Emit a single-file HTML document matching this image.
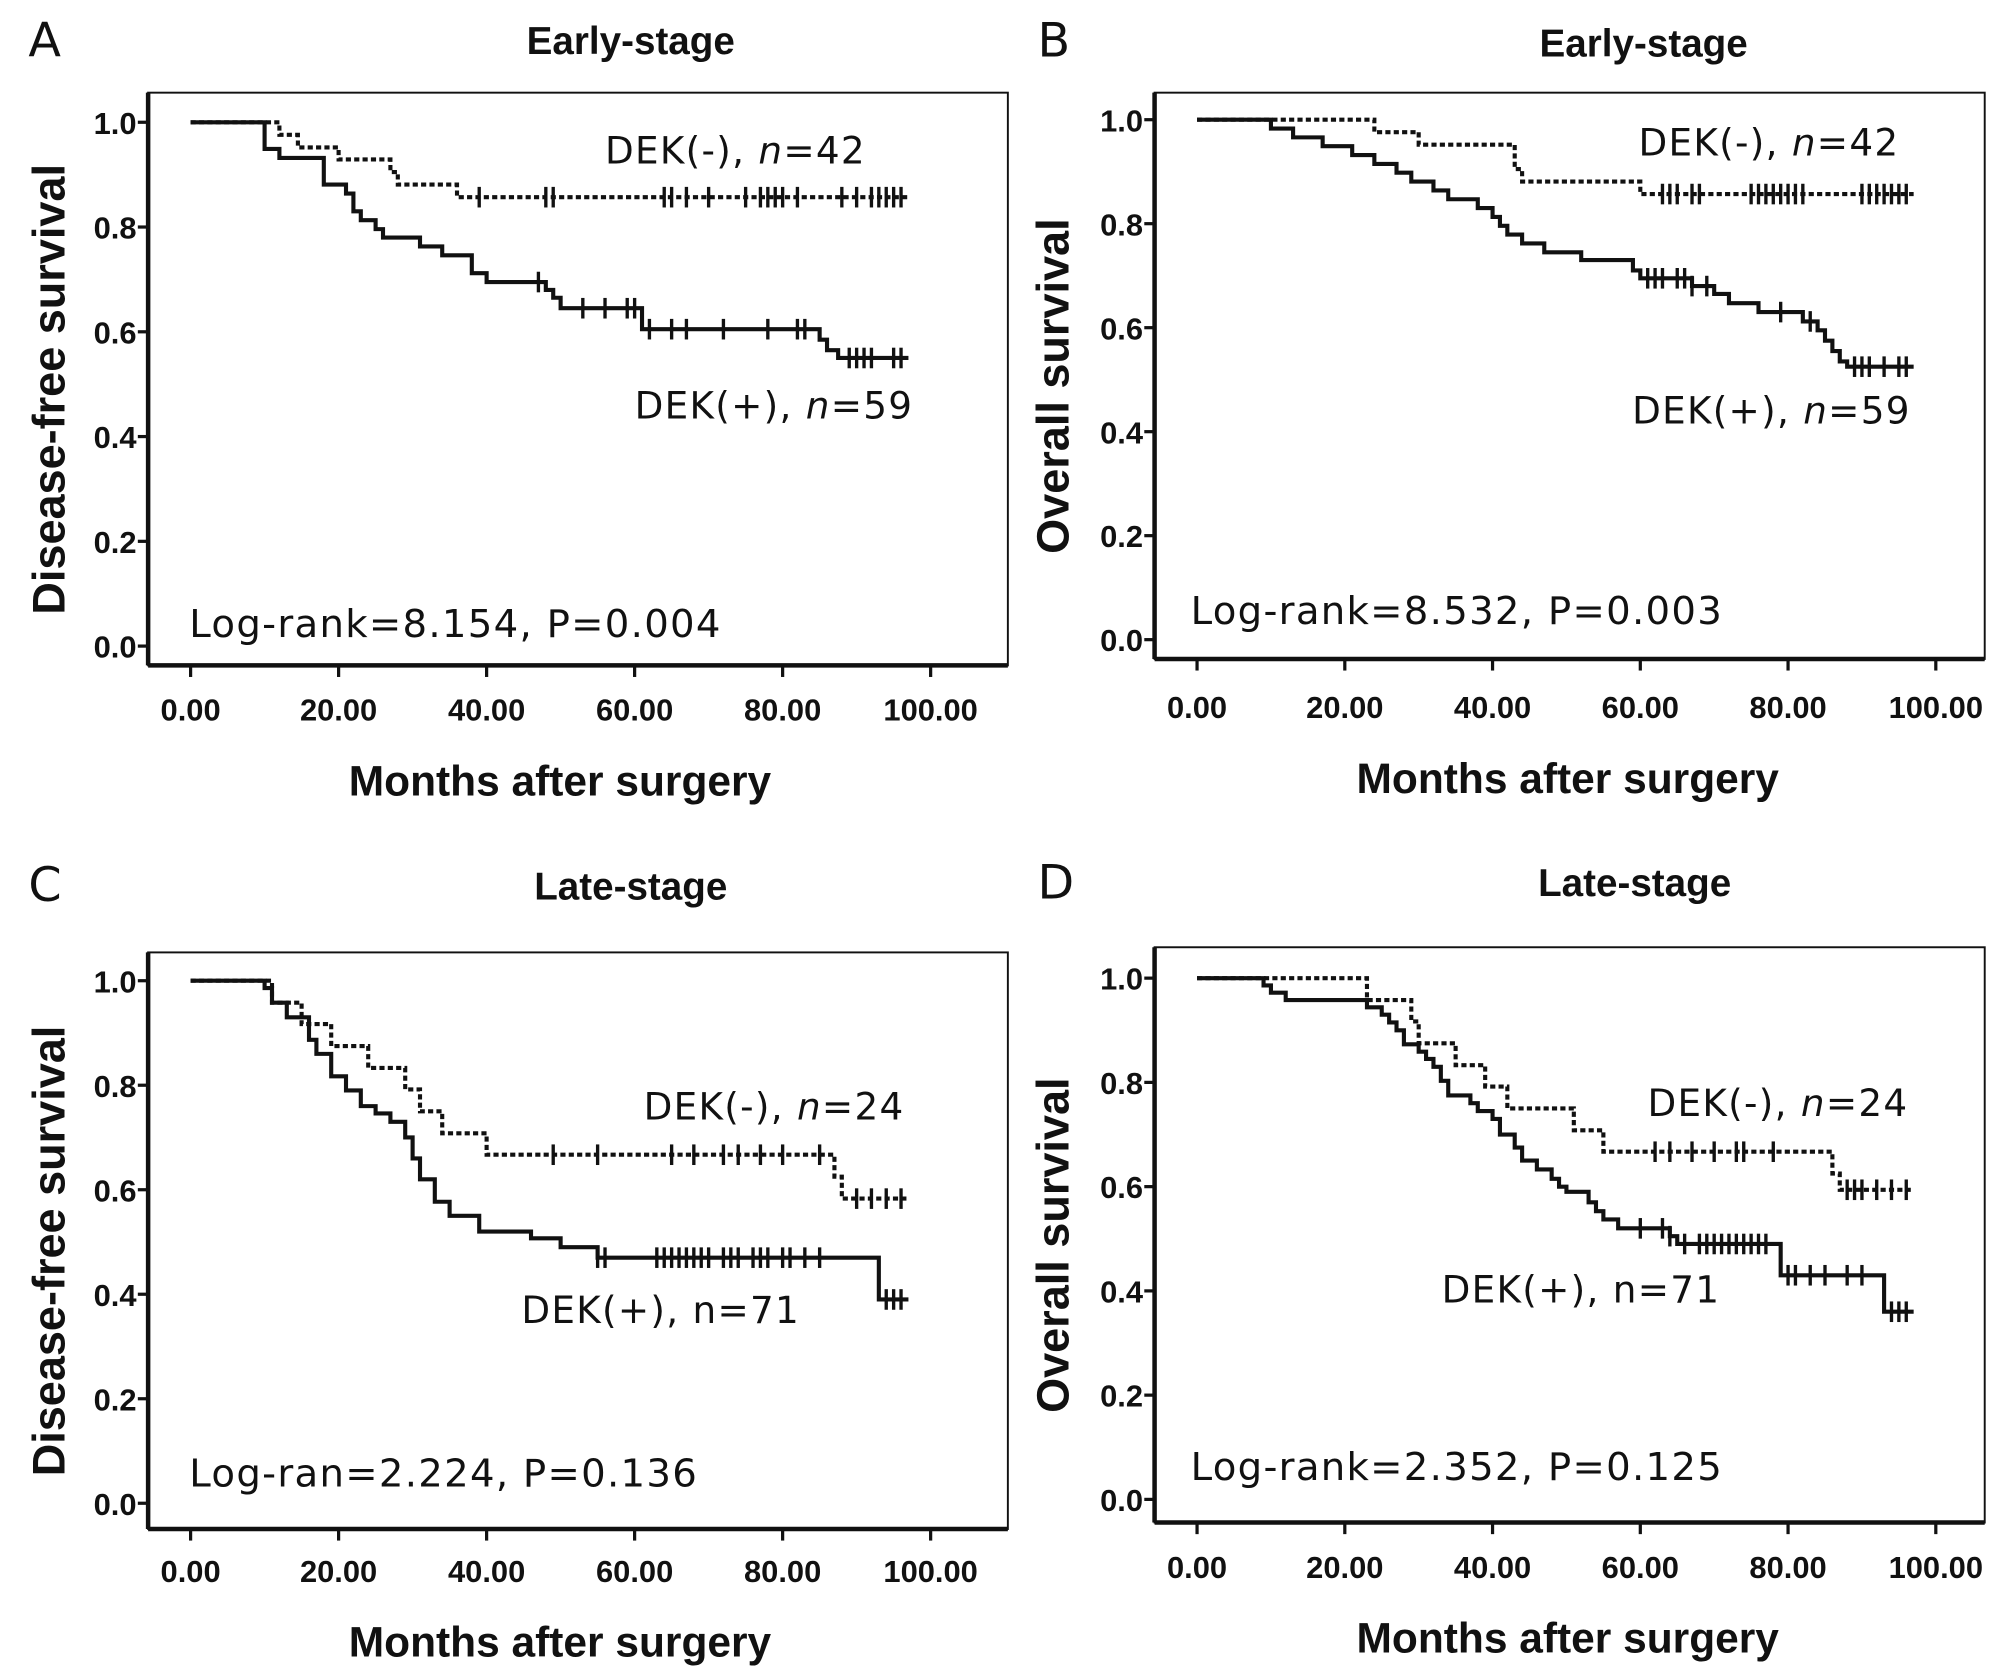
<!DOCTYPE html>
<html><head><meta charset="utf-8"><style>
html,body{margin:0;padding:0;background:#fff}
svg{display:block}
text{font-family:"Liberation Sans",Arial,sans-serif;fill:#111}
.ann{font-family:"DejaVu Sans","Liberation Sans",sans-serif}
</style></head><body>
<svg id="fig" width="2008" height="1677" viewBox="0 0 1560 1303" xmlns="http://www.w3.org/2000/svg"></svg>
<script>
// Panel A
const aNegT=[12,14.5,20,27,28,36];const aNegS=[0.976,0.952,0.929,0.905,0.881,0.857];
const aNegC=[39,48,49,64,65,67,70,75,77,78,79,80,82,88,90,92,93,94,95,96];
const aPosT=[10,12,18,21,22,23,25,26,31,34,38,40,48,49,50,61,85,86,87.5];
const aPosS=[0.949,0.932,0.881,0.864,0.83,0.813,0.796,0.78,0.763,0.746,0.712,0.695,0.68,0.665,0.645,0.605,0.585,0.565,0.55];
const aPosC=[47,53,56,59,60,62,65,67,72,78,82,83,89,90,91,92,95,96];
// Panel B
const bNegT=[24,30,43,44,60];const bNegS=[0.976,0.952,0.905,0.881,0.857];
const bNegC=[63,64,65,67,68,75,76,77,78,79,80,81,82,90,91,92,93,94,95,96];
const bPosT=[10,13,17,21,24,27,29,32,34,38,40,41,42,44,47,52,59,60,67,70,72,76,82,84,85,86,87,88];
const bPosS=[0.983,0.966,0.949,0.932,0.915,0.898,0.881,0.864,0.847,0.83,0.813,0.796,0.779,0.762,0.745,0.73,0.71,0.695,0.68,0.665,0.647,0.63,0.612,0.595,0.575,0.555,0.535,0.525];
const bPosC=[61,62,63,65,66,67,69,79,83,89,90,91,93,95,96];
// Panel C
const cNegT=[11,15,19,24,29,31,34,40,87,88];const cNegS=[0.958,0.917,0.875,0.833,0.792,0.75,0.708,0.667,0.625,0.583];
const cNegC=[49,55,65,68,72,74,77,80,85,90,92,94,96];
const cPosT=[10,11,13,16,17,19,21,23,25,27,29,30,31,33,35,39,46,50,55,93];
const cPosS=[0.986,0.958,0.93,0.887,0.86,0.817,0.79,0.76,0.746,0.73,0.7,0.66,0.62,0.577,0.55,0.52,0.507,0.49,0.47,0.39];
const cPosC=[55,56,63,64,65,66,67,68,69,70,72,73,74,76,77,78,80,81,83,85,94,95,96];
// Panel D
const dNegT=[23,29,30,35,39,42,51,55,86,87];const dNegS=[0.958,0.917,0.875,0.833,0.792,0.75,0.708,0.667,0.625,0.594];
const dNegC=[62,64,67,70,73,74,78,88,89,90,92,94,96];
const dPosT=[9,10,12,23,25,26,27,28,30,31,32,33,34,37,38,40,41,43,44,46,48,49,50,53,54,55,57,64,65,79,93];
const dPosS=[0.986,0.972,0.958,0.944,0.93,0.915,0.9,0.873,0.859,0.845,0.83,0.803,0.775,0.76,0.745,0.73,0.7,0.675,0.65,0.633,0.615,0.6,0.59,0.57,0.553,0.537,0.52,0.505,0.49,0.43,0.36];
const dPosC=[60,63,64,66,68,69,70,71,72,73,74,75,76,77,80,81,83,85,88,90,94,95,96];
const yTicks=["0.0","0.2","0.4","0.6","0.8","1.0"];
const xTicks=["0.00","20.00","40.00","60.00","80.00","100.00"];

const NS="http://www.w3.org/2000/svg";const svg=document.getElementById('fig');
function mk(tag,attrs,parent,txt){const e=document.createElementNS(NS,tag);for(const k in attrs)e.setAttribute(k,attrs[k]);if(txt!==undefined)e.textContent=txt;(parent||svg).appendChild(e);return e;}

const panels=[
 {L:"A",title:"Early-stage",yl:"Disease-free survival",fl:115,fr:783,ft:72,fb:517,x0:148,x1:723,y1:95,y0:502,tx:490,ty:42,lx:22,ly:44,ylx:50,tly:560,atx:435,aty:618,
  neg:[aNegT,aNegS,aNegC],pos:[aPosT,aPosS,aPosC],negL:["DEK(-), ",true,"n","=42",470,127],posL:["DEK(+), ",true,"n","=59",493,325],lr:["Log-rank=8.154, P=0.004",147,495]},
 {L:"B",title:"Early-stage",yl:"Overall survival",fl:897,fr:1542,ft:72,fb:512,x0:930,x1:1504,y1:93,y0:497,tx:1277,ty:44,lx:806,ly:44,ylx:830,tly:558,atx:1218,aty:616,
  neg:[bNegT,bNegS,bNegC],pos:[bPosT,bPosS,bPosC],negL:["DEK(-), ",true,"n","=42",1273,121],posL:["DEK(+), ",true,"n","=59",1268,329],lr:["Log-rank=8.532, P=0.003",925,485]},
 {L:"C",title:"Late-stage",yl:"Disease-free survival",fl:115,fr:783,ft:740,fb:1188,x0:148,x1:723,y1:762,y0:1168,tx:490,ty:699,lx:22,ly:700,ylx:50,tly:1229,atx:435,aty:1287,
  neg:[cNegT,cNegS,cNegC],pos:[cPosT,cPosS,cPosC],negL:["DEK(-), ",true,"n","=24",500,870],posL:["DEK(+), ",false,"n","=71",405,1028],lr:["Log-ran=2.224, P=0.136",147,1155]},
 {L:"D",title:"Late-stage",yl:"Overall survival",fl:897,fr:1542,ft:736,fb:1183,x0:930,x1:1504,y1:760,y0:1165,tx:1270,ty:696,lx:806,ly:698,ylx:830,tly:1226,atx:1218,aty:1284,
  neg:[dNegT,dNegS,dNegC],pos:[dPosT,dPosS,dPosC],negL:["DEK(-), ",true,"n","=24",1280,867],posL:["DEK(+), ",false,"n","=71",1120,1012],lr:["Log-rank=2.352, P=0.125",925,1150]}
];

panels.forEach(p=>{
 const g=mk('g',{});
 
 
 const sx=v=>p.x0+(p.x1-p.x0)*v/100, sy=v=>p.y0-(p.y0-p.y1)*v;
 const lt=mk('text',{x:p.lx,y:p.ly,'font-size':37,'class':'ann'},g,p.L);
 
 const ti=mk('text',{x:p.tx,y:p.ty,'font-size':30,'font-weight':'bold','text-anchor':'middle'},g,p.title);
 
 const fr=mk('rect',{x:p.fl,y:p.ft,width:p.fr-p.fl,height:p.fb-p.ft,fill:'none',stroke:'#111','stroke-width':1.5},g);
 
 mk('line',{x1:p.fl,y1:p.fb,x2:p.fr,y2:p.fb,stroke:'#111','stroke-width':3.5},g);
 mk('line',{x1:p.fl,y1:p.ft,x2:p.fl,y2:p.fb,stroke:'#111','stroke-width':3.5},g);
 yTicks.forEach((t,i)=>{const y=sy(i*0.2);
  mk('line',{x1:p.fl-8,y1:y,x2:p.fl,y2:y,stroke:'#111','stroke-width':2.5},g);
  const e=mk('text',{x:p.fl-9,y:y+9,'font-size':24,'font-weight':'bold','text-anchor':'end'},g,t);
  });
 xTicks.forEach((t,i)=>{const x=sx(i*20);
  mk('line',{x1:x,y1:p.fb,x2:x,y2:p.fb+9,stroke:'#111','stroke-width':2.5},g);
  const e=mk('text',{x:x,y:p.tly,'font-size':24,'font-weight':'bold','text-anchor':'middle'},g,t);
  });
 const xa=mk('text',{x:p.atx,y:p.aty,'font-size':33,'font-weight':'bold','text-anchor':'middle'},g,"Months after surgery");
 
 const cy=(p.ft+p.fb)/2;
 const ya=mk('text',{x:p.ylx-8,y:cy,'font-size':35,'text-anchor':'middle',transform:`rotate(-90 ${p.ylx} ${cy})`,'font-weight':'bold'},g,p.yl);
 
 function curve(T,S,C,dash,name){
  let d=`M${sx(0)},${sy(1)}`;
  T.forEach((t,i)=>{d+=` H${sx(t)} V${sy(S[i])}`;});
  d+=` H${sx(97)}`;
  const e=mk('path',{d:d,fill:'none',stroke:'#111','stroke-width':3.2,'stroke-dasharray':dash?'4 2.5':'none'},g);
  
  C.forEach(c=>{let s=1;T.forEach((t,i)=>{if(t<=c)s=S[i];});
   const m=mk('line',{x1:sx(c),y1:sy(s)-8,x2:sx(c),y2:sy(s)+8,stroke:'#111','stroke-width':2.6},g);
   });
 }
 curve(p.neg[0],p.neg[1],p.neg[2],true,'dek-negative');
 curve(p.pos[0],p.pos[1],p.pos[2],false,'dek-positive');
 [[p.negL,'dek-negative-label'],[p.posL,'dek-positive-label']].forEach(([l,nm])=>{
  const e=mk('text',{x:l[4],y:l[5],'font-size':29,'class':'ann','letter-spacing':1},g);
  
  mk('tspan',{},e,l[0]);mk('tspan',{'font-style':l[1]?'italic':'normal'},e,l[2]);mk('tspan',{},e,l[3]);});
 const lr=mk('text',{x:p.lr[1],y:p.lr[2],'font-size':30,'class':'ann','letter-spacing':1},g,p.lr[0]);
 
});
</script>
</body></html>
